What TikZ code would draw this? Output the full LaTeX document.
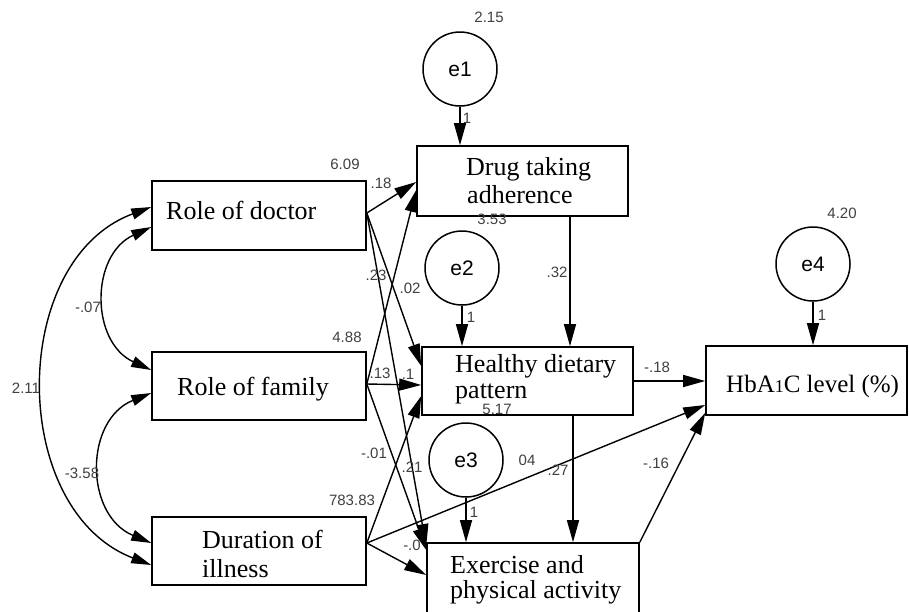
\documentclass[tikz,border=0pt]{standalone}
\usepackage{fontspec}
\setmainfont{Liberation Serif}
\newfontfamily\lblfont{Liberation Sans}
\usetikzlibrary{arrows.meta,calc}
\begin{document}
\begin{tikzpicture}[x=1pt,y=-1pt,
  box/.style={draw, line width=1.6pt, rectangle, inner sep=0pt},
  txt/.style={inner sep=0pt, anchor=base west, font=\fontsize{26}{28}\selectfont},
  err/.style={draw, circle, line width=1.5pt, minimum size=74pt, inner sep=0pt, font=\lblfont\fontsize{21}{24}\selectfont},
  num/.style={inner sep=0pt, font=\lblfont\fontsize{15}{16}\selectfont, text=black!75},
  pth/.style={line width=1.4pt, -{Triangle[length=22pt,width=12pt]}},
  cov/.style={line width=1.4pt, {Triangle[length=20pt,width=11pt]}-{Triangle[length=20pt,width=11pt]}},
]
\path[use as bounding box, fill=white] (0,0) rectangle (909,611);

% observed boxes
\node[box, minimum width=214pt, minimum height=69pt] (doc) at (259,215.5) {};
\node[box, minimum width=214pt, minimum height=68pt] (fam) at (259,386) {};
\node[box, minimum width=214pt, minimum height=68pt] (dur) at (259,551) {};
\node[box, minimum width=211pt, minimum height=70pt] (drug) at (522.5,181) {};
\node[box, minimum width=211pt, minimum height=68pt] (hl) at (527.5,381) {};
\node[box, minimum width=212pt, minimum height=70pt] (ex) at (533,578) {};
\node[box, minimum width=201pt, minimum height=69pt] (hba) at (806.5,380.5) {};

% box texts
\node[txt] (tdoc) at (166,219) {Role of doctor};
\node[txt] (tfam) at (177,395) {Role of family};
\node[txt] (tdur1) at (202,548) {Duration of};
\node[txt] (tdur2) at (202,577) {illness};
\node[txt] (tdrug1) at (466,175) {Drug taking};
\node[txt] (tdrug2) at (467,203) {adherence};
\node[txt] (thl1) at (455,372) {Healthy dietary};
\node[txt] (thl2) at (455,398) {pattern};
\node[txt] (tex1) at (450,573) {Exercise and};
\node[txt] (tex2) at (450,598) {physical activity};
\node[txt, font=\fontsize{25}{28}\selectfont] (thba) at (726,392) {HbA{\fontsize{18}{20}\selectfont 1}C level (\%)};

% error terms
\node[err] (e1) at (460,69) {e1};
\node[err] (e2) at (462,268) {e2};
\node[err] (e3) at (466,460) {e3};
\node[err] (e4) at (813,264) {e4};

% error arrows
\draw[pth] (e1.south) -- (e1.south |- drug.north);
\draw[pth] (e2.south) -- (e2.south |- hl.north);
\draw[pth] (e3.south) -- (e3.south |- ex.north);
\draw[pth] (e4.south) -- (e4.south |- hba.north);

% paths from exogenous variables
\draw[pth] ($(doc.east)+(0,-2.5)$) -- ($(drug.west)+(0,1)$);
\draw[pth] ($(doc.east)+(0,-2.5)$) -- ($(hl.west)+(0,-15)$);
\draw[pth] ($(doc.east)+(0,-2.5)$) -- ($(ex.west)+(0,-32)$);
\draw[pth] ($(fam.east)+(0,-2)$) -- ($(drug.west)+(0,9)$);
\draw[pth] ($(fam.east)+(0,-2)$) -- ($(hl.west)+(0,4)$);
\draw[pth] ($(fam.east)+(0,-2)$) -- ($(ex.west)+(0,-28)$);
\draw[pth] ($(dur.east)+(0,-8)$) -- ($(hl.west)+(0,15)$);
\draw[pth] ($(dur.east)+(0,-8)$) -- ($(ex.west)+(0,-3)$);
\draw[pth] ($(dur.east)+(0,-8)$) -- ($(hba.west)+(0,24.5)$);

% mediator paths
\draw[pth] ($(drug.south)+(47.5,0)$) -- ($(hl.north)+(42.5,0)$);
\draw[pth] ($(hl.south)+(45.5,0)$) -- ($(ex.north)+(40,0)$);
\draw[pth] (hl.east) -- (hl.east -| hba.west);
\draw[pth] (ex.north east) -- ($(hba.south west)+(0,-3)$);

% covariances
\draw[cov] ($(doc.west)+(0,11.5)$) .. controls +(-61,28) and +(-61,-28) .. ($(fam.west)+(0,-16)$);
\draw[cov] ($(fam.west)+(0,7)$) .. controls +(-67,27) and +(-67,-28) .. ($(dur.west)+(0,-8)$);
\draw[cov] ($(doc.west)+(0,-8.5)$) .. controls +(-143,53) and +(-143,-55) .. ($(dur.west)+(0,14)$);

% estimates
\node[num] (n215) at (489,17) {2.15};
\node[num] (n609) at (345,164) {6.09};
\node[num] (n18) at (381,183) {.18};
\node[num] (n353) at (492,219) {3.53};
\node[num] (n32) at (557,272) {.32};
\node[num] (n23) at (376,275) {.23};
\node[num] (n02) at (410,288) {.02};
\node[num] (n488) at (347,337) {4.88};
\node[num] (n13) at (380,373) {.13};
\node[num] (n1x) at (408,374) {.1};
\node[num] (nm18) at (657,367) {-.18};
\node[num] (n420) at (842,213) {4.20};
\node[num] (ne1) at (467,118) {1};
\node[num] (ne2) at (471,317) {1};
\node[num] (ne3) at (474,512) {1};
\node[num] (ne4) at (822,315) {1};
\node[num] (n517) at (497,409) {5.17};
\node[num] (nm01) at (374,453) {-.01};
\node[num] (n21) at (412,467) {.21};
\node[num] (n04) at (527,460) {04};
\node[num] (n27) at (558,470) {.27};
\node[num] (nm16) at (656,463) {-.16};
\node[num] (n78383) at (352,500) {783.83};
\node[num] (nm0) at (412,545) {-.0};
\node[num] (nm07) at (88,307) {-.07};
\node[num] (n211) at (26,388) {2.11};
\node[num] (nm358) at (82,473) {-3.58};
\end{tikzpicture}
\end{document}
